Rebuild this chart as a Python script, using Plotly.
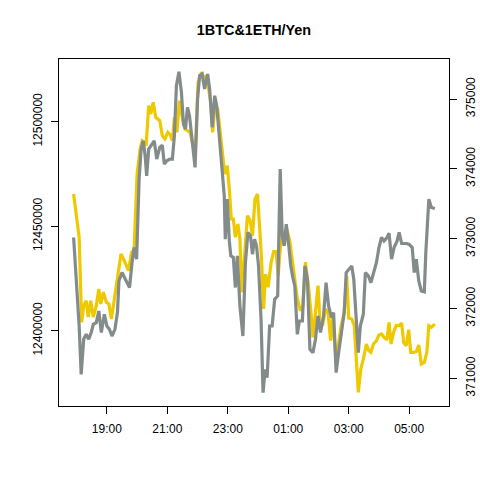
import plotly.graph_objects as go
from datetime import datetime

TITLE = "1BTC&1ETH/Yen"

# BTC (left axis, yellow)
btc_time = ["17:54","18:05","18:10","18:14","18:19","18:23","18:28","18:33","18:39","18:44","18:48","18:53","18:59",
            "19:04","19:09","19:14","19:20","19:28","19:33","19:38","19:43","19:49","19:54","20:00","20:06","20:10",
            "20:14","20:18","20:23","20:27","20:32","20:37","20:45","20:50","20:55","21:01","21:06","21:10","21:14",
            "21:19","21:24","21:29","21:35","21:40","21:45","21:51","21:55","22:01","22:08","22:13","22:17","22:21",
            "22:26","22:30","22:34","22:40","22:45","22:50","22:54","22:59","23:03","23:07","23:11","23:15","23:20",
            "23:24","23:28","23:34","23:39","23:44","23:49","23:54","23:59","00:03","00:07","00:11","00:15","00:20",
            "00:26","00:31","00:36","00:40","00:47","00:52","00:57","01:03","01:08","01:13","01:18","01:24","01:29",
            "01:34","01:40","01:45","01:49","01:54","01:59","02:03","02:08","02:14","02:19","02:24","02:28","02:34",
            "02:39","02:45","02:51","02:56","03:00","03:06","03:11","03:19","03:24","03:29","03:35","03:40","03:44",
            "03:49","03:55","04:00","04:05","04:10","04:16","04:20","04:24","04:29","04:34","04:40","04:45","04:49",
            "04:54","04:59","05:03","05:08","05:14","05:19","05:24","05:30","05:35","05:39","05:44","05:51"]
btc_value = [12465400,12444700,12404000,12411950,12414350,12406550,12414350,12406550,12411950,12419950,12412770,
             12418370,12413580,12412770,12405590,12413580,12421530,12436690,12434300,12431910,12428700,12437510,
             12438270,12474970,12486940,12490910,12490140,12488520,12507660,12503680,12509280,12502100,12500480,
             12493300,12491720,12494930,12493640,12490910,12502100,12494930,12510050,12502870,12496510,12495690,
             12494930,12488520,12482150,12518850,12523640,12520430,12522010,12517230,12509280,12494930,12506080,
             12506080,12493300,12483730,12474970,12478950,12467800,12453440,12453440,12444690,12451050,12443870,
             12418370,12439090,12455020,12452960,12445450,12463010,12465400,12450240,12434300,12410380,12427120,
             12420760,12432720,12437800,12437800,12426310,12448660,12440670,12448660,12443060,12434300,12423150,
             12415160,12409560,12411960,12432720,12421530,12408800,12396840,12408800,12421530,12404010,12402390,
             12410380,12408800,12395210,12407170,12388030,12392820,12402390,12408800,12426310,12406070,12405590,
             12402390,12370520,12381670,12386450,12393630,12390420,12389660,12393630,12395210,12397940,12398410,
             12396840,12395690,12404010,12393630,12399230,12402390,12402390,12403680,12394440,12392820,12400470,
             12389660,12389660,12389950,12393150,12384060,12384870,12389660,12402390,12401620,12403200]

# ETH (right axis, gray)
eth_time = ["17:54","18:01","18:05","18:09","18:14","18:19","18:24","18:29","18:33","18:39","18:44","18:49","18:55",
            "19:00","19:05","19:10","19:16","19:21","19:24","19:30","19:36","19:41","19:45","19:50","19:54","19:59",
            "20:04","20:08","20:12","20:16","20:19","20:23","20:28","20:34","20:39","20:45","20:50","20:54","20:59",
            "21:05","21:10","21:14","21:18","21:23","21:28","21:32","21:36","21:40","21:44","21:49","21:55","22:00",
            "22:04","22:09","22:14","22:20","22:24","22:29","22:34","22:38","22:43","22:47","22:53","22:55","22:59",
            "23:03","23:06","23:11","23:15","23:19","23:24","23:30","23:35","23:40","23:45","23:49","23:53","23:57",
            "00:01","00:06","00:10","00:14","00:18","00:23","00:28","00:33","00:39","00:44","00:48","00:52","00:56",
            "01:01","01:05","01:09","01:13","01:18","01:22","01:28","01:33","01:38","01:43","01:49","01:54","01:59",
            "02:04","02:10","02:15","02:20","02:26","02:30","02:35","02:40","02:45","02:51","02:55","03:00","03:06",
            "03:10","03:15","03:19","03:23","03:29","03:33","03:39","03:44","03:49","03:55","04:00","04:05","04:10",
            "04:16","04:20","04:25","04:30","04:36","04:40","04:45","04:50","04:55","05:00","05:06","05:10","05:14",
            "05:19","05:24","05:30","05:33","05:39","05:44","05:51"]
eth_value = [373018,372230,371751,371059,371561,371632,371561,371657,371776,371800,371966,371657,371919,
             371751,371704,371608,371704,371943,372396,372517,372421,372349,372302,372660,372875,372707,
             373854,374283,374402,374187,373901,374283,374341,374402,374140,374308,374341,374069,374116,
             374140,374140,374474,375191,375391,375096,374642,374570,374881,374761,374427,374021,375000,
             375334,375358,375143,375358,375143,374594,375047,374904,374474,374140,373614,372994,373567,
             372969,372755,372732,372302,372755,372038,371608,372660,373090,373041,372779,372994,372898,
             372611,371847,370797,371131,371012,371751,371751,372134,372181,373997,373041,372898,373209,
             372898,372611,372445,372325,371632,371823,371823,372611,372421,371417,371370,371561,371895,
             371657,371895,372373,372038,371872,371943,371084,371370,371657,371943,372517,372564,372611,
             372421,371751,371370,371751,371919,372517,372468,372373,372492,372660,372875,373018,372969,
             373018,373080,372707,372875,372969,373090,372932,372932,372932,372918,372875,372517,372707,
             372396,372253,372239,372803,373567,373448,373434]

x_tick_labels = ["19:00","21:00","23:00","01:00","03:00","05:00"]
left_ticks = [12400000, 12450000, 12500000]
right_ticks = [371000, 372000, 373000, 374000, 375000]


def to_dt(s):
    h, m = map(int, s.split(":"))
    day = 1 if h >= 12 else 2
    return datetime(2024, 1, day, h, m)


FONT = "Liberation Sans, Arial, sans-serif"

fig = go.Figure()
fig.add_trace(go.Scatter(x=[to_dt(s) for s in btc_time], y=btc_value, mode="lines",
                         line=dict(color="#EEC900", width=3.2), yaxis="y", showlegend=False))
fig.add_trace(go.Scatter(x=[to_dt(s) for s in eth_time], y=eth_value, mode="lines",
                         line=dict(color="#838B8B", width=3.2), yaxis="y2", showlegend=False))

fig.update_layout(
    width=480, height=480,
    margin=dict(l=59, r=31, t=59, b=74, autoexpand=False),
    paper_bgcolor="white", plot_bgcolor="white",
    font=dict(family=FONT, size=12, color="black"),
    title=dict(text="<b>" + TITLE + "</b>", x=0.5, xref="paper", y=1 - 30 / 480, yref="container",
               xanchor="center", yanchor="middle", font=dict(size=14.4, family=FONT, color="black")),
    xaxis=dict(type="date", range=[to_dt("17:25"), to_dt("06:19")], automargin=False,
               tickvals=[to_dt(s) for s in x_tick_labels], ticktext=x_tick_labels,
               showgrid=False, zeroline=False, showline=True, mirror=True, linecolor="black", linewidth=1,
               ticks="outside", ticklen=7, tickcolor="black", tickfont=dict(size=12),
               ticklabelstandoff=5),
    yaxis=dict(range=[12363970, 12530000], tickvals=left_ticks, ticktext=[str(v) for v in left_ticks],
               automargin=False,
               showgrid=False, zeroline=False, showline=True, mirror=True, linecolor="black", linewidth=1,
               ticks="outside", ticklen=7, tickcolor="black", tickangle=-90, tickfont=dict(size=12),
               ticklabelstandoff=4),
    yaxis2=dict(range=[370606, 375573], tickvals=right_ticks, ticktext=[str(v) for v in right_ticks],
                overlaying="y", side="right", anchor="x", automargin=False,
                showgrid=False, zeroline=False, showline=False,
                ticks="outside", ticklen=7, tickcolor="black", tickangle=-90, tickfont=dict(size=12),
                ticklabelstandoff=4),
)

fig.write_html("out.html")
